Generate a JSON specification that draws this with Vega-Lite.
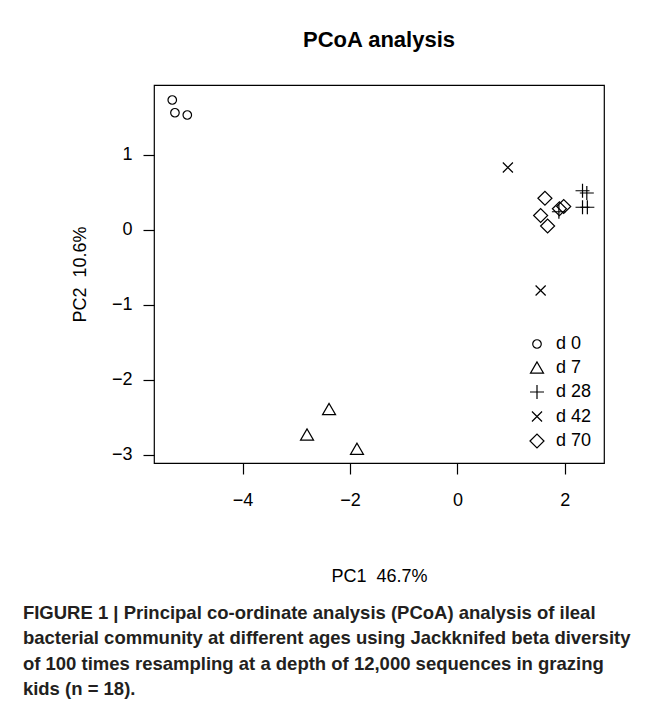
{
  "$schema": "https://vega.github.io/schema/vega-lite/v6.json",
  "background": "white",
  "padding": {"left": 22, "top": 28, "right": 0, "bottom": 0},
  "title": {
    "text": [
      "FIGURE 1 | Principal co-ordinate analysis (PCoA) analysis of ileal",
      "bacterial community at different ages using Jackknifed beta diversity",
      "of 100 times resampling at a depth of 12,000 sequences in grazing",
      "kids (n = 18)."
    ],
    "orient": "bottom",
    "anchor": "start",
    "frame": "bounds",
    "font": "Liberation Sans",
    "fontSize": 18.5,
    "fontWeight": "bold",
    "color": "#231f20",
    "lineHeight": 25.5,
    "offset": 18,
    "dx": -48
  },
  "vconcat": [
    {
      "width": 450,
      "height": 378,
      "title": {
        "text": "PCoA analysis",
        "font": "Liberation Sans",
        "fontSize": 22,
        "fontWeight": "bold",
        "color": "black",
        "anchor": "middle",
        "offset": 33
      },
      "data": {
        "values": [
          {"group": "d 0", "pc1": -5.31, "pc2": 1.73},
          {"group": "d 0", "pc1": -5.26, "pc2": 1.56},
          {"group": "d 0", "pc1": -5.03, "pc2": 1.53},
          {"group": "d 7", "pc1": -2.39, "pc2": -2.39},
          {"group": "d 7", "pc1": -2.80, "pc2": -2.73},
          {"group": "d 7", "pc1": -1.87, "pc2": -2.92},
          {"group": "d 28", "pc1": 2.33, "pc2": 0.52},
          {"group": "d 28", "pc1": 2.41, "pc2": 0.49},
          {"group": "d 28", "pc1": 2.33, "pc2": 0.30},
          {"group": "d 28", "pc1": 2.42, "pc2": 0.30},
          {"group": "d 28", "pc1": 1.89, "pc2": 0.24},
          {"group": "d 42", "pc1": 0.94, "pc2": 0.83},
          {"group": "d 42", "pc1": 1.55, "pc2": -0.81},
          {"group": "d 70", "pc1": 1.63, "pc2": 0.42},
          {"group": "d 70", "pc1": 1.55, "pc2": 0.19},
          {"group": "d 70", "pc1": 1.68, "pc2": 0.05},
          {"group": "d 70", "pc1": 1.98, "pc2": 0.31},
          {"group": "d 70", "pc1": 1.90, "pc2": 0.28}
        ]
      },
      "mark": {"type": "point", "filled": false, "stroke": "black", "strokeWidth": 1.2, "size": 196, "opacity": 1},
      "encoding": {
        "x": {
          "field": "pc1",
          "type": "quantitative",
          "scale": {"domain": [-5.65, 2.73], "nice": false, "zero": false},
          "axis": {"values": [-4, -2, 0, 2], "title": "PC1\u00a0 46.7%", "labelPadding": 17, "titlePadding": 58}
        },
        "y": {
          "field": "pc2",
          "type": "quantitative",
          "scale": {"domain": [-3.11, 1.93], "nice": false, "zero": false},
          "axis": {"values": [-3, -2, -1, 0, 1], "title": "PC2\u00a0 10.6%", "labelPadding": 11, "titlePadding": 22}
        },
        "shape": {
          "field": "group",
          "type": "nominal",
          "scale": {
            "domain": ["d 0", "d 7", "d 28", "d 42", "d 70"],
            "range": [
              "M0.61,0A0.61,0.61,0,1,1,-0.61,0A0.61,0.61,0,1,1,0.61,0",
              "M0,-0.8L-0.93,0.8L0.93,0.8Z",
              "M-1,0L1,0M0,-1L0,1",
              "M-0.72,-0.72L0.72,0.72M-0.72,0.72L0.72,-0.72",
              "M-1,0L0,-1L1,0L0,1Z"
            ]
          },
          "legend": {
            "title": null,
            "orient": "none",
            "legendX": 374,
            "legendY": 250,
            "symbolSize": 196,
            "symbolStrokeWidth": 1.2,
            "symbolStrokeColor": "black",
            "symbolFillColor": "transparent",
            "labelFont": "Liberation Sans",
            "labelFontSize": 18,
            "labelColor": "black",
            "labelOffset": 10,
            "rowPadding": 5.5,
            "padding": 0
          }
        }
      }
    }
  ],
  "config": {
    "view": {"stroke": "black", "strokeWidth": 1.2},
    "font": "Liberation Sans",
    "axis": {
      "domain": false,
      "grid": false,
      "tickColor": "black",
      "tickSize": 11,
      "tickWidth": 1.2,
      "labelColor": "black",
      "labelFont": "Liberation Sans",
      "labelFontSize": 18,
      "titleFont": "Liberation Sans",
      "titleFontSize": 18,
      "titleFontWeight": "normal",
      "titleColor": "black"
    }
  }
}
